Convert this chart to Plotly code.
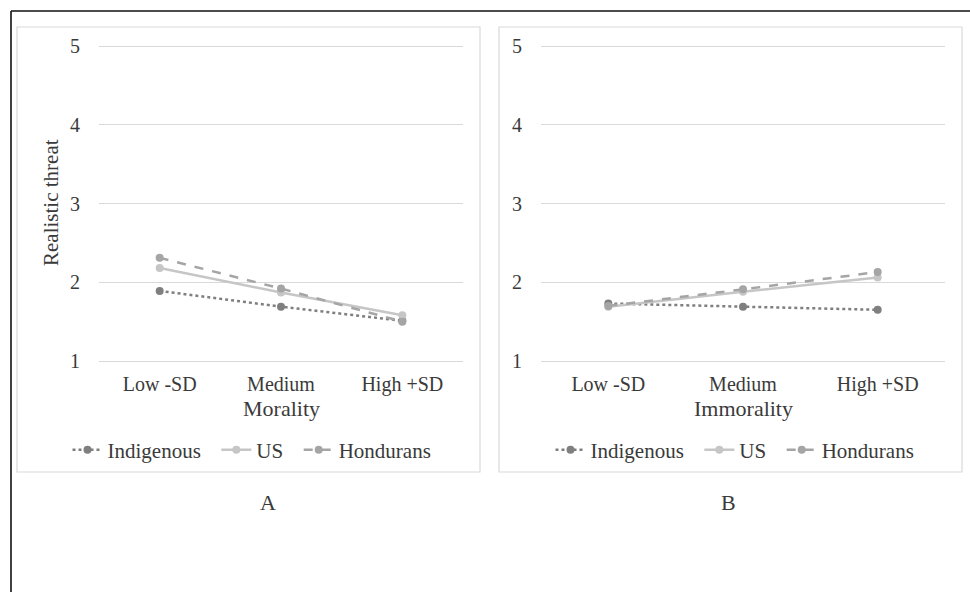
import plotly.graph_objects as go

W, H = 970, 592

categories = ["Low -SD", "Medium", "High +SD"]
series_names = ["Indigenous", "US", "Hondurans"]

# Panel A: Morality
morality_indigenous = [1.89, 1.69, 1.51]
morality_us = [2.18, 1.87, 1.58]
morality_hondurans = [2.31, 1.92, 1.50]

# Panel B: Immorality
immorality_indigenous = [1.73, 1.69, 1.65]
immorality_us = [1.69, 1.88, 2.06]
immorality_hondurans = [1.70, 1.91, 2.13]

y_ticks = [1, 2, 3, 4, 5]

colors = {"Indigenous": "#7f7f7f", "US": "#c6c6c6", "Hondurans": "#a5a5a5"}
dashes = {"Indigenous": "dot", "US": "solid", "Hondurans": "dash"}

FONT = "Liberation Serif, Times New Roman, serif"
TXT = "#3a3a3a"
NBSP = "\u00a0"


def px_x(p):
    return p / W


def px_y(p):
    return 1 - p / H


def legend_label(name, i):
    # small trailing spacing between legend entries, as in the reference
    return name + (NBSP * 2 if i < len(series_names) - 1 else "")


fig = go.Figure()

panelA = [morality_indigenous, morality_us, morality_hondurans]
panelB = [immorality_indigenous, immorality_us, immorality_hondurans]

for i, (name, vals) in enumerate(zip(series_names, panelA)):
    fig.add_trace(go.Scatter(
        x=categories, y=vals, name=legend_label(name, i), mode="lines+markers",
        line=dict(color=colors[name], width=2.5, dash=dashes[name]),
        marker=dict(color=colors[name], size=8),
        xaxis="x", yaxis="y", legend="legend"))

for i, (name, vals) in enumerate(zip(series_names, panelB)):
    fig.add_trace(go.Scatter(
        x=categories, y=vals, name=legend_label(name, i), mode="lines+markers",
        line=dict(color=colors[name], width=2.5, dash=dashes[name]),
        marker=dict(color=colors[name], size=8),
        xaxis="x2", yaxis="y2", legend="legend2"))

# pixels per unit on the y axis: 315 px for 4 units; pad 2 px each side
pad = 2 * 4 / 315
xax = dict(type="category", range=[-0.5, 2.5], showgrid=False, zeroline=False,
           showline=False, ticks="", tickfont=dict(family=FONT, size=20, color=TXT),
           ticklabelstandoff=7, automargin=False)
yax = dict(range=[1 - pad, 5 + pad], tickvals=y_ticks, showgrid=True, gridcolor="#d9d9d9",
           gridwidth=1, zeroline=False, showline=False, ticks="",
           tickfont=dict(family=FONT, size=20, color=TXT), ticklabelstandoff=18,
           automargin=False)

ydom = [px_y(363), px_y(44)]
leg = dict(orientation="h", yanchor="middle", y=px_y(450), xanchor="center",
           font=dict(family=FONT, size=21, color=TXT), bgcolor="rgba(0,0,0,0)",
           itemwidth=30, tracegroupgap=0)
fig.update_layout(
    width=W, height=H, autosize=False,
    margin=dict(l=0, r=0, t=0, b=0, pad=0, autoexpand=False),
    paper_bgcolor="white", plot_bgcolor="white",
    xaxis=dict(domain=[px_x(99), px_x(463)], anchor="y", **xax),
    yaxis=dict(domain=ydom, anchor="x", **yax),
    xaxis2=dict(domain=[px_x(541), px_x(945)], anchor="y2", **xax),
    yaxis2=dict(domain=ydom, anchor="x2", **yax),
    legend=dict(x=px_x(252), **leg),
    legend2=dict(x=px_x(735), **leg),
    showlegend=True,
)

shapes = [
    # panel boxes
    dict(type="rect", xref="paper", yref="paper", x0=px_x(17), x1=px_x(480), y0=px_y(472), y1=px_y(27),
         line=dict(color="#d9d9d9", width=1.2), layer="below"),
    dict(type="rect", xref="paper", yref="paper", x0=px_x(499), x1=px_x(962), y0=px_y(472), y1=px_y(27),
         line=dict(color="#d9d9d9", width=1.2), layer="below"),
    # outer frame (top and left)
    dict(type="line", xref="paper", yref="paper", x0=px_x(11), x1=1.0, y0=px_y(11), y1=px_y(11),
         line=dict(color="#111111", width=1.6)),
    dict(type="line", xref="paper", yref="paper", x0=px_x(11), x1=px_x(11), y0=px_y(11), y1=0.0,
         line=dict(color="#111111", width=1.6)),
]
fig.update_layout(shapes=shapes)

annots = [
    dict(text="Realistic threat", x=px_x(51), y=px_y(203), textangle=-90, font=dict(size=21)),
    dict(text="Morality", x=px_x(281), y=px_y(408), font=dict(size=22)),
    dict(text="Immorality", x=px_x(743), y=px_y(408), font=dict(size=22)),
    dict(text="A", x=px_x(268), y=px_y(502), font=dict(size=22)),
    dict(text="B", x=px_x(728), y=px_y(502), font=dict(size=22)),
]
for a in annots:
    f = dict(family=FONT, color=TXT)
    f.update(a.pop("font"))
    fig.add_annotation(xref="paper", yref="paper", showarrow=False, xanchor="center",
                       yanchor="middle", font=f, **a)

post = (
    "document.documentElement.style.margin='0px';"
    "document.documentElement.style.padding='0px';"
    "document.documentElement.style.overflow='hidden';"
    "document.body.style.margin='0px';"
    "document.body.style.padding='0px';"
    "document.body.style.overflow='hidden';"
    "var gd=document.getElementById('{plot_id}');"
    "gd.style.position='absolute';gd.style.left='0px';gd.style.top='0px';"
)

fig.write_html(
    "out.html",
    config={"displayModeBar": False, "responsive": False},
    post_script=post,
)
